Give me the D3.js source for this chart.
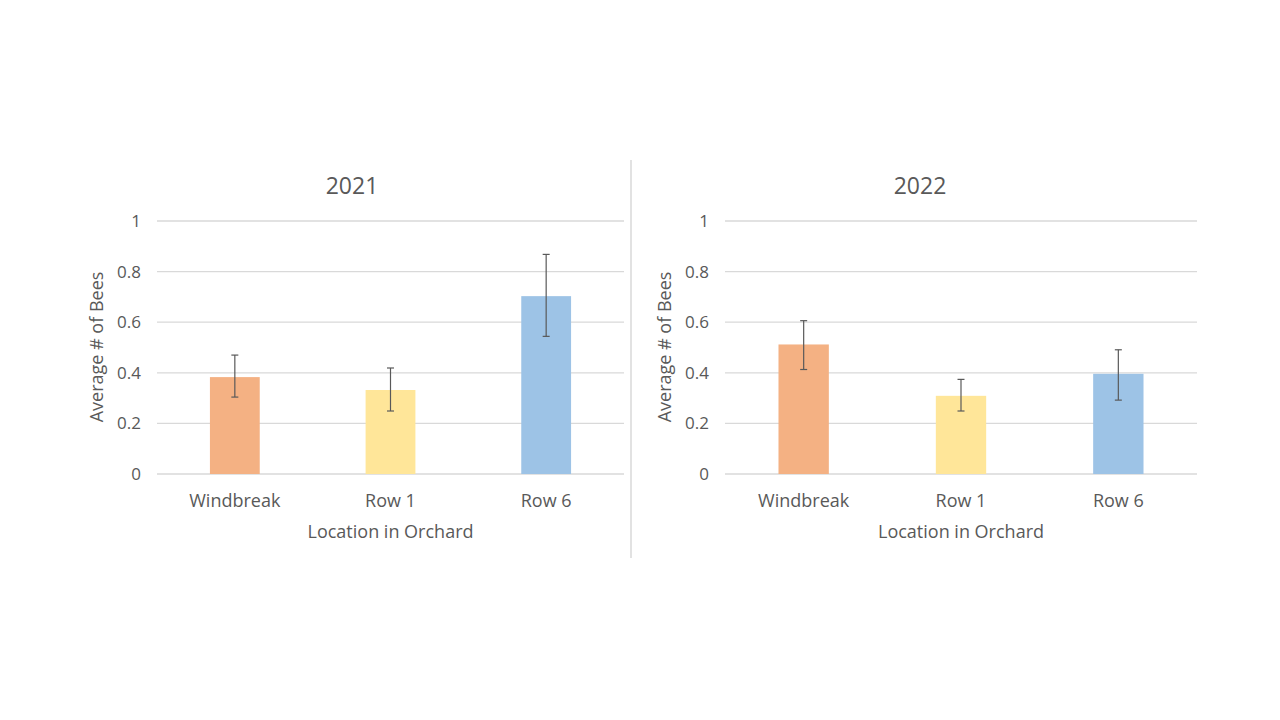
<!DOCTYPE html>
<html><head><meta charset="utf-8">
<script src="https://cdn.jsdelivr.net/npm/d3@7"></script>
<style>body{margin:0;background:#fff}svg{display:block}text{font-family:"Open Sans","Liberation Sans",sans-serif;fill:#595959}</style>
</head><body>
<svg id="c" width="1280" height="720"></svg>
<script>
const categories = ["Windbreak", "Row 1", "Row 6"];
const years = ["2021", "2022"];
const values2021 = [0.383, 0.332, 0.703];
const errLow2021 = [0.304, 0.249, 0.544];
const errHigh2021 = [0.470, 0.419, 0.868];
const values2022 = [0.512, 0.309, 0.396];
const errLow2022 = [0.413, 0.249, 0.292];
const errHigh2022 = [0.606, 0.374, 0.491];
const yTicks = [0, 0.2, 0.4, 0.6, 0.8, 1];
const colors = ["#F4B183", "#FFE699", "#9DC3E6"];

const svg = d3.select("#c");
const panels = [
  {year: years[0], vals: values2021, lo: errLow2021, hi: errHigh2021, x0: 157, x1: 624},
  {year: years[1], vals: values2022, lo: errLow2022, hi: errHigh2022, x0: 725, x1: 1197}
];
const y = d3.scaleLinear().domain([0, 1]).range([474, 221]);

// divider
svg.append("line").attr("x1", 631).attr("x2", 631).attr("y1", 160).attr("y2", 558)
  .attr("stroke", "#d9d9d9").attr("stroke-width", 1.5);

panels.forEach(p => {
  const g = svg.append("g");
  const x = d3.scaleBand().domain(categories).range([p.x0, p.x1]).paddingInner(0.68).paddingOuter(0.34);
  // grid
  g.selectAll(".grid").data(yTicks).join("line")
    .attr("x1", p.x0).attr("x2", p.x1)
    .attr("y1", d => y(d)).attr("y2", d => y(d))
    .attr("stroke", "#d9d9d9").attr("stroke-width", 1.3);
  // y tick labels
  g.selectAll(".yt").data(yTicks).join("text")
    .attr("x", p.x0 - 16).attr("y", d => y(d)).attr("dy", "0.35em")
    .attr("text-anchor", "end").attr("font-size", 17)
    .text(d => d3.format("~g")(d));
  // bars
  g.selectAll(".bar").data(p.vals).join("rect")
    .attr("x", (d, i) => x(categories[i])).attr("width", x.bandwidth())
    .attr("y", d => y(d)).attr("height", d => y(0) - y(d))
    .attr("fill", (d, i) => colors[i]);
  // error bars
  const eb = g.selectAll(".eb").data(categories).join("g");
  const cx = c => x(c) + x.bandwidth() / 2;
  eb.append("line").attr("x1", cx).attr("x2", cx)
    .attr("y1", (c, i) => y(p.hi[i])).attr("y2", (c, i) => y(p.lo[i]))
    .attr("stroke", "#595959").attr("stroke-width", 1.2);
  [p.hi, p.lo].forEach(arr => {
    eb.append("line").attr("x1", c => cx(c) - 3.5).attr("x2", c => cx(c) + 3.5)
      .attr("y1", (c, i) => y(arr[i])).attr("y2", (c, i) => y(arr[i]))
      .attr("stroke", "#595959").attr("stroke-width", 1.2);
  });
  // x labels
  g.selectAll(".xl").data(categories).join("text")
    .attr("x", c => cx(c)).attr("y", 507).attr("text-anchor", "middle")
    .attr("font-size", 18).text(c => c);
  // axis title
  g.append("text").attr("x", (p.x0 + p.x1) / 2).attr("y", 538).attr("text-anchor", "middle")
    .attr("font-size", 18).text("Location in Orchard");
  // y title
  g.append("text").attr("transform", `translate(${p.x0 - 54},347) rotate(-90)`)
    .attr("text-anchor", "middle").attr("font-size", 18).text("Average # of Bees");
  // title
  g.append("text").attr("x", p.x0 + 195).attr("y", 194).attr("text-anchor", "middle")
    .attr("font-size", 23).text(p.year);
});
</script>
</body></html>
